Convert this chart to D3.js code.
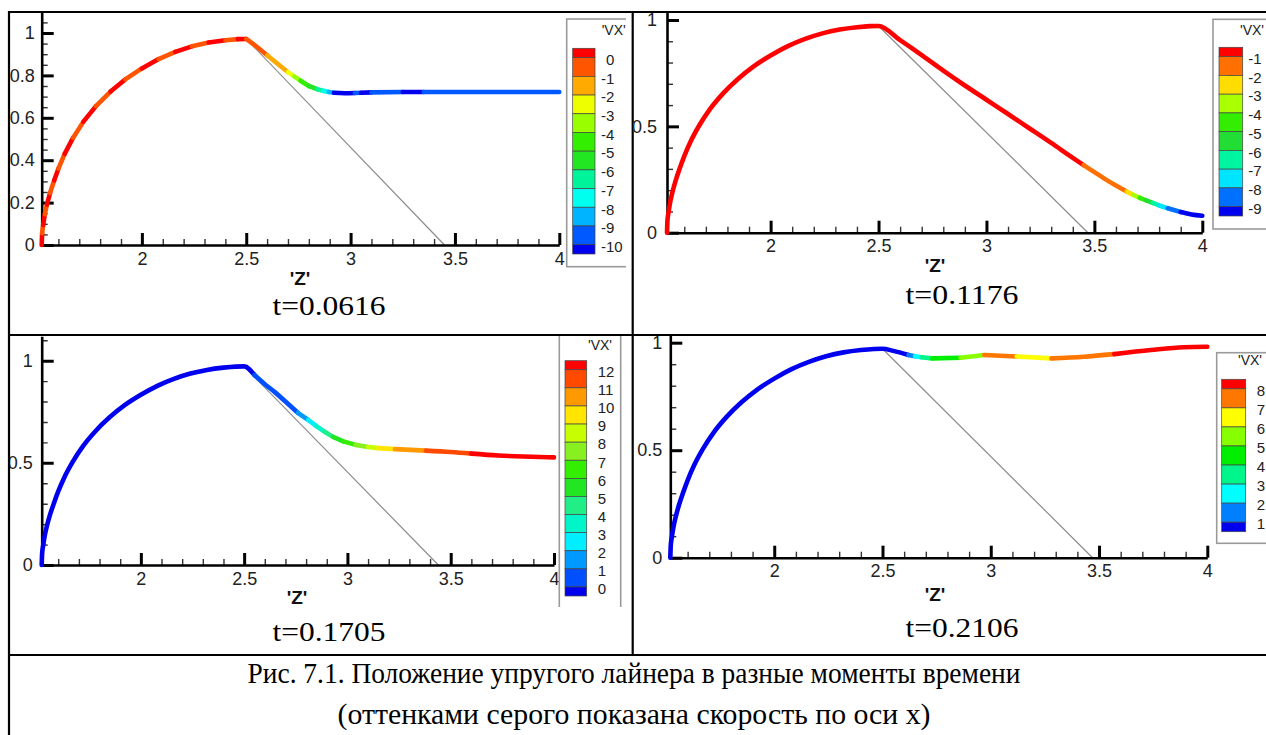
<!DOCTYPE html>
<html><head><meta charset="utf-8">
<script src="https://cdn.jsdelivr.net/npm/d3@7/dist/d3.min.js"></script>
<style>body{margin:0;background:#fff}svg{display:block}</style>
</head><body>
<svg id="c" width="1266" height="735"></svg>
<script>
// ================= DATA =================
// fixed arch of the liner (same in every frame): z, r
const archZ = [1.52, 1.522, 1.527, 1.535, 1.545, 1.56, 1.58, 1.6, 1.63, 1.67, 1.72, 1.78, 1.85, 1.92, 2.0, 2.08, 2.16, 2.24, 2.32, 2.4, 2.46, 2.5];
const archR = [0, 0.055, 0.095, 0.145, 0.19, 0.245, 0.305, 0.36, 0.43, 0.505, 0.582, 0.655, 0.724, 0.781, 0.833, 0.877, 0.911, 0.937, 0.955, 0.966, 0.971, 0.972];
// VX along the arch in each frame (one value per arch point)
const arch1VX = [0.1, -0.2, 0.1, -0.2, 0.1, -0.2, 0.1, -0.2, 0.1, -0.2, 0.1, -0.2, 0.1, -0.2, 0.1, -0.2, 0.1, -0.2, 0.1, -0.2, 0.1, -0.2];
const arch2VX = [-0.5, -0.5, -0.5, -0.5, -0.5, -0.5, -0.5, -0.5, -0.5, -0.5, -0.5, -0.5, -0.5, -0.5, -0.5, -0.5, -0.5, -0.5, -0.5, -0.5, -0.5, -0.5];
const arch3VX = [-0.5, -0.5, -0.5, -0.5, -0.5, -0.5, -0.5, -0.5, -0.5, -0.5, -0.5, -0.5, -0.5, -0.5, -0.5, -0.5, -0.5, -0.5, -0.5, -0.5, -0.5, -0.5];
const arch4VX = [0.5, 0.5, 0.5, 0.5, 0.5, 0.5, 0.5, 0.5, 0.5, 0.5, 0.5, 0.5, 0.5, 0.5, 0.5, 0.5, 0.5, 0.5, 0.5, 0.5, 0.5, 0.5];

// t = 0.0616
const tail1Z  = [2.55, 2.6, 2.65, 2.7, 2.73, 2.76, 2.8, 2.84, 2.87, 2.895, 2.92, 2.97, 3.02, 3.05, 3.1, 3.25, 3.35, 4.0];
const tail1R  = [0.935, 0.895, 0.855, 0.815, 0.795, 0.775, 0.75, 0.735, 0.727, 0.722, 0.718, 0.716, 0.717, 0.718, 0.72, 0.722, 0.722, 0.722];
const tail1VX = [-0.7, -1.3, -1.7, -2.5, -3.3, -4.5, -5.5, -6.6, -7.6, -8.6, -10.3, -10.3, -9.6, -10.3, -9.6, -10.3, -9.6, -9.6];
// t = 0.1176
const tail2Z  = [2.6, 2.7, 2.8, 2.9, 3.0, 3.1, 3.2, 3.3, 3.4, 3.45, 3.5, 3.55, 3.6, 3.65, 3.68, 3.71, 3.74, 3.77, 3.8, 3.84, 3.9, 3.95, 4.0];
const tail2R  = [0.905, 0.835, 0.762, 0.692, 0.625, 0.558, 0.49, 0.422, 0.352, 0.318, 0.285, 0.252, 0.222, 0.193, 0.178, 0.164, 0.152, 0.14, 0.128, 0.115, 0.097, 0.086, 0.08];
const tail2VX = [-0.5, -0.5, -0.5, -0.5, -0.5, -0.5, -0.5, -0.5, -0.5, -1.5, -1.5, -1.5, -1.5, -2.5, -3.5, -4.5, -5.5, -6.5, -7.5, -8.5, -9.5, -9.5, -9.5];
// t = 0.1705
const tail3Z  = [2.55, 2.6, 2.65, 2.7, 2.76, 2.81, 2.85, 2.89, 2.93, 2.98, 3.04, 3.1, 3.15, 3.23, 3.38, 3.5, 3.6, 3.73, 3.85, 4.0];
const tail3R  = [0.93, 0.885, 0.845, 0.8, 0.745, 0.71, 0.68, 0.652, 0.627, 0.605, 0.588, 0.578, 0.572, 0.567, 0.56, 0.553, 0.545, 0.536, 0.531, 0.527];
const tail3VX = [0.3, 0.4, 0.6, 0.7, 1.4, 2.4, 3.4, 4.5, 5.6, 6.5, 7.5, 8.5, 9.4, 10.4, 11.4, 11.6, 12.4, 12.4, 12.4, 12.4];
// t = 0.2106
const tail4Z  = [2.55, 2.62, 2.65, 2.68, 2.73, 2.86, 2.97, 3.12, 3.28, 3.43, 3.57, 3.74, 3.89, 4.0];
const tail4R  = [0.962, 0.943, 0.937, 0.932, 0.927, 0.93, 0.943, 0.936, 0.927, 0.935, 0.947, 0.966, 0.979, 0.981];
const tail4VX = [0.7, 1.5, 2.5, 3.5, 4.4, 5.5, 7.5, 6.5, 7.4, 7.5, 8.4, 8.4, 8.4, 8.4];

// end point of the grey cone line on the axis (it starts at the arch top)
const coneEnd = [3.45, 3.47, 3.44, 3.47];

// legend levels and band colours (top band above first level ... bottom band below last)
const levels1 = [0, -1, -2, -3, -4, -5, -6, -7, -8, -9, -10];
const colors1 = ["#ff0000", "#ff5400", "#ffaa00", "#eeff00", "#99ff00", "#33ee00", "#22e622", "#00f59a", "#00ffee", "#00b4ff", "#0058ff", "#0000ee"];
const levels2 = [-1, -2, -3, -4, -5, -6, -7, -8, -9];
const colors2 = ["#ff0000", "#ff7000", "#ffdd00", "#aaff00", "#33ee00", "#22dd33", "#00f5a0", "#00e5ff", "#0070ff", "#0000ee"];
const levels3 = [12, 11, 10, 9, 8, 7, 6, 5, 4, 3, 2, 1, 0];
const colors3 = ["#ff0000", "#ff4a00", "#ff9900", "#ffe500", "#c8ff00", "#88f020", "#33ee00", "#22e622", "#22ee88", "#00f5c8", "#00eeff", "#0099ff", "#0050ff", "#0000ee"];
const levels4 = [8, 7, 6, 5, 4, 3, 2, 1];
const colors4 = ["#ff0000", "#ff7700", "#ffff00", "#88ff00", "#00ee00", "#00f58a", "#00ffff", "#0080ff", "#0000ee"];

// ticks
const xMajor = [2, 2.5, 3, 3.5, 4];
const xMinor = [1.6, 1.7, 1.8, 1.9, 2.1, 2.2, 2.3, 2.4, 2.6, 2.7, 2.8, 2.9, 3.1, 3.2, 3.3, 3.4, 3.6, 3.7, 3.8, 3.9];
const yMajor1 = [0, 0.2, 0.4, 0.6, 0.8, 1];
const yMinor1 = [0.05, 0.1, 0.15, 0.25, 0.3, 0.35, 0.45, 0.5, 0.55, 0.65, 0.7, 0.75, 0.85, 0.9, 0.95, 1.05, 1.1];
const yMajorB = [0, 0.5, 1];
const yMinorB = [0.1, 0.2, 0.3, 0.4, 0.6, 0.7, 0.8, 0.9, 1.1];

const timeLabels = ["t=0.0616", "t=0.1176", "t=0.1705", "t=0.2106"];
const axisTitle = "'Z'";
const legendTitle = "'VX'";
const caption1 = "Рис. 7.1. Положение упругого лайнера в разные моменты времени";
const caption2 = "(оттенками серого показана скорость по оси x)";

// ================= LAYOUT =================
const panels = [
  { av: arch1VX, tz: tail1Z, tr: tail1R, tv: tail1VX, lv: levels1, col: colors1, ym: yMajor1, yn: yMinor1,
    xr: [41.7, 559.3], y0: 245, y1: 33, ytop: 1.1, ypad: 7,
    clip: [10, 13, 616, 321],
    leg: { bx: 566.7, by: 19, bw: 90, bh: 247.7, barX: 572.7, barW: 22.3, top: 48.3, bot: 254, lx: 601, vx: 601.7, vy: 35 },
    z: [300, 285], t: [329, 315] },
  { av: arch2VX, tz: tail2Z, tr: tail2R, tv: tail2VX, lv: levels2, col: colors2, ym: yMajorB, yn: yMinorB,
    xr: [667, 1202.3], y0: 232.7, y1: 20, ytop: 1.035, ypad: 10,
    clip: [634, 13, 632, 321],
    leg: { bx: 1213, by: 19.3, bw: 90, bh: 209.7, barX: 1219, barW: 23.7, top: 47.3, bot: 216, lx: 1248.3, vx: 1240, vy: 35 },
    z: [935, 272], t: [962, 304] },
  { av: arch3VX, tz: tail3Z, tr: tail3R, tv: tail3VX, lv: levels3, col: colors3, ym: yMajorB, yn: yMinorB,
    xr: [41.7, 554], y0: 565, y1: 360.7, ytop: 1.12, ypad: 9,
    clip: [10, 336, 621.5, 271],
    leg: { bx: 559.3, by: 320, bw: 61.4, bh: 310, barX: 565, barW: 21.7, top: 360.7, bot: 596, lx: 592.7, vx: 588, vy: 350 },
    z: [297, 604], t: [329, 641] },
  { av: arch4VX, tz: tail4Z, tr: tail4R, tv: tail4VX, lv: levels4, col: colors4, ym: yMajorB, yn: yMinorB,
    xr: [670.3, 1207.3], y0: 557.7, y1: 342.7, ytop: 1.05, ypad: 8,
    clip: [634, 336, 632, 318],
    leg: { bx: 1216.7, by: 352.7, bw: 90, bh: 190.6, barX: 1221.7, barW: 24, top: 379.3, bot: 531.7, lx: 1251.7, vx: 1238, vy: 365 },
    z: [935, 601], t: [962, 637] }
];

const svg = d3.select("#c");
const defs = svg.append("defs");
const SANS = "'Liberation Sans', Arial, sans-serif";
const SERIF = "'Liberation Serif', 'Times New Roman', serif";

panels.forEach((P, i) => {
  defs.append("clipPath").attr("id", "clip" + i).append("rect")
    .attr("x", P.clip[0]).attr("y", P.clip[1]).attr("width", P.clip[2]).attr("height", P.clip[3]);
  const g = svg.append("g").attr("clip-path", `url(#clip${i})`);

  const x = d3.scaleLinear().domain([archZ[0], 4]).range(P.xr);
  const y = d3.scaleLinear().domain([0, 1]).range([P.y0, P.y1]);
  const yAx = d3.scaleLinear().domain([0, P.ytop]).range([P.y0, y(P.ytop)]);

  // grey cone line
  const peakI = archZ.length - 1;
  g.append("path")
    .attr("d", d3.line().x(d => x(d[0])).y(d => y(d[1]))([[archZ[peakI], archR[peakI]], [coneEnd[i], 0]]))
    .attr("stroke", "#8c8c8c").attr("stroke-width", 1.2).attr("fill", "none");

  // axes
  const xg = g.append("g").attr("transform", `translate(0,${P.y0})`);
  xg.append("g").call(d3.axisBottom(x).tickValues(xMinor).tickSize(-6).tickSizeOuter(0).tickFormat(""))
    .call(s => s.select(".domain").remove())
    .selectAll("line").attr("stroke", "#333").attr("stroke-width", 1.4);
  const xMaj = xg.append("g").call(d3.axisBottom(x).tickValues(xMajor).tickSize(-12).tickSizeOuter(0).tickPadding(7).tickFormat(d => String(d)));
  xMaj.select(".domain").attr("stroke", "#000").attr("stroke-width", 2.6);
  xMaj.selectAll(".tick line").attr("stroke", "#000").attr("stroke-width", 3);
  xMaj.selectAll("text").attr("font-family", SANS).attr("font-size", 18).attr("fill", "#222");

  const yg = g.append("g").attr("transform", `translate(${P.xr[0]},0)`);
  yg.append("g").call(d3.axisLeft(yAx).tickValues(P.yn).tickSize(-6).tickSizeOuter(0).tickFormat(""))
    .call(s => s.select(".domain").remove())
    .selectAll("line").attr("stroke", "#333").attr("stroke-width", 1.4);
  const yMaj = yg.append("g").call(d3.axisLeft(yAx).tickValues(P.ym).tickSize(-12).tickSizeOuter(0).tickPadding(P.ypad).tickFormat(d => String(d)));
  yMaj.select(".domain").attr("stroke", "#000").attr("stroke-width", 2.6);
  yMaj.selectAll(".tick line").attr("stroke", "#000").attr("stroke-width", 3);
  yMaj.selectAll("text").attr("font-family", SANS).attr("font-size", 18).attr("fill", "#222");

  // coloured liner curve
  const pts = archZ.map((z, k) => ({ z, r: archR[k], v: P.av[k] }))
    .concat(P.tz.map((z, k) => ({ z, r: P.tr[k], v: P.tv[k] })));
  const band = v => P.lv.filter(l => l > v).length;
  const runs = [];
  for (let k = 0; k < pts.length - 1; k++) {
    const b = band(pts[k].v);
    if (runs.length && runs[runs.length - 1].b === b) runs[runs.length - 1].p.push(pts[k + 1]);
    else runs.push({ b, p: [pts[k], pts[k + 1]] });
  }
  const line = d3.line().x(d => x(d.z)).y(d => y(d.r)).curve(d3.curveMonotoneX);
  g.append("g").selectAll("path").data(runs).join("path")
    .attr("d", d => line(d.p)).attr("fill", "none")
    .attr("stroke", d => P.col[d.b]).attr("stroke-width", 4.6)
    .attr("stroke-linecap", "round").attr("stroke-linejoin", "round");

  // legend
  const L = P.leg;
  const lg = g.append("g");
  lg.append("rect").attr("x", L.bx).attr("y", L.by).attr("width", L.bw).attr("height", L.bh)
    .attr("fill", "#fff").attr("stroke", "#9a9a9a").attr("stroke-width", 1.6);
  const n = P.lv.length;
  const unit = (L.bot - L.top) / n;
  const ly = d3.scaleLinear().domain([P.lv[0], P.lv[n - 1]]).range([L.top + unit / 2, L.bot - unit / 2]);
  const edges = [L.top].concat(P.lv.map(ly)).concat([L.bot]);
  lg.selectAll("rect.band").data(P.col).join("rect").attr("class", "band")
    .attr("x", L.barX).attr("width", L.barW)
    .attr("y", (c, k) => edges[k]).attr("height", (c, k) => edges[k + 1] - edges[k])
    .attr("fill", c => c).attr("stroke", "#444").attr("stroke-width", 0.7);
  lg.selectAll("text.lab").data(P.lv).join("text").attr("class", "lab")
    .attr("x", d => L.lx + (d >= 0 ? 5 : 0)).attr("y", d => ly(d) + 2).attr("dy", "0.35em")
    .attr("font-family", SANS).attr("font-size", 15).attr("fill", "#222").text(d => String(d));
  lg.append("text").attr("x", L.vx).attr("y", L.vy).attr("font-family", SANS).attr("font-size", 14)
    .attr("fill", "#222").text(legendTitle);

  // axis title
  g.append("text").attr("x", P.z[0]).attr("y", P.z[1]).attr("text-anchor", "middle")
    .attr("font-family", SANS).attr("font-weight", "bold").attr("font-size", 19).attr("fill", "#111").text(axisTitle);

  // time label
  svg.append("text").attr("x", P.t[0]).attr("y", P.t[1]).attr("text-anchor", "middle")
    .attr("font-family", SERIF).attr("font-size", 28).attr("textLength", 113).attr("lengthAdjust", "spacingAndGlyphs")
    .attr("fill", "#000").text(timeLabels[i]);
});

// caption
svg.append("text").attr("x", 634).attr("y", 683).attr("text-anchor", "middle")
  .attr("font-family", SERIF).attr("font-size", 29).attr("textLength", 773).attr("lengthAdjust", "spacingAndGlyphs")
  .text(caption1);
svg.append("text").attr("x", 634).attr("y", 724).attr("text-anchor", "middle")
  .attr("font-family", SERIF).attr("font-size", 29).attr("textLength", 593).attr("lengthAdjust", "spacingAndGlyphs")
  .text(caption2);

// table borders
const B = svg.append("g").attr("stroke", "#000").attr("stroke-width", 2.2).attr("fill", "none");
B.append("line").attr("x1", 8).attr("x2", 1266).attr("y1", 12).attr("y2", 12);
B.append("line").attr("x1", 9).attr("x2", 9).attr("y1", 11).attr("y2", 735);
B.append("line").attr("x1", 632.7).attr("x2", 632.7).attr("y1", 12).attr("y2", 655);
B.append("line").attr("x1", 9).attr("x2", 1266).attr("y1", 335).attr("y2", 335);
B.append("line").attr("x1", 9).attr("x2", 1266).attr("y1", 655).attr("y2", 655);
</script>
</body></html>
